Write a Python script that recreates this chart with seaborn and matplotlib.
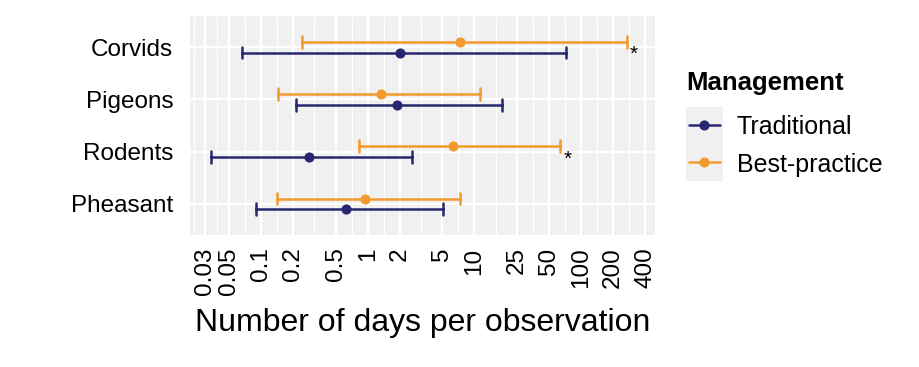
import numpy as np
import pandas as pd
import matplotlib
matplotlib.use("Agg")
import matplotlib.pyplot as plt
import seaborn as sns
from matplotlib.lines import Line2D
from matplotlib.patches import Rectangle
from matplotlib.ticker import NullFormatter

# data (days per observation)
species = ["Corvids", "Pigeons", "Rodents", "Pheasant"]
groups = ["Traditional", "Best-practice"]

trad_low = [0.066, 0.211, 0.034, 0.0905]
trad_mid = [2.02, 1.88, 0.282, 0.622]
trad_high = [72, 18.0, 2.58, 5.05]

best_low = [0.24, 0.143, 0.82, 0.142]
best_mid = [7.4, 1.32, 6.26, 0.945]
best_high = [270, 11.4, 64, 7.4]

signif = [True, False, True, False]

x_breaks = [0.03, 0.05, 0.1, 0.2, 0.5, 1, 2, 5, 10, 25, 50, 100, 200, 400]
x_labels = ["0.03", "0.05", "0.1", "0.2", "0.5", "1", "2", "5", "10", "25",
            "50", "100", "200", "400"]

colors = {"Traditional": "#27286F", "Best-practice": "#F39A2E"}

# long table: low / mid / high rows, the median gives the point
rows = []
for g, lo, mid, hi in [("Traditional", trad_low, trad_mid, trad_high),
                       ("Best-practice", best_low, best_mid, best_high)]:
    for i, sp in enumerate(species):
        for v in (lo[i], mid[i], hi[i]):
            rows.append({"species": sp, "Management": g, "days": v})
df = pd.DataFrame(rows)

sns.set_theme(style="white")
plt.rcParams["font.family"] = ["Liberation Sans", "DejaVu Sans"]
plt.rcParams["text.color"] = "black"

fig = plt.figure(figsize=(9.2, 3.67), dpi=100)
ax = fig.add_axes([190 / 920, 1 - 235 / 367, 465 / 920, 219 / 367])
ax.set_facecolor("#F0F0F0")

sns.pointplot(data=df, x="days", y="species", hue="Management",
              order=species, hue_order=["Best-practice", "Traditional"],
              palette=colors, estimator="median",
              errorbar=lambda v: (v.min(), v.max()),
              dodge=0.2, capsize=0.23, log_scale=True,
              linestyle="none", markers="o", markersize=7.3,
              markeredgewidth=0, linewidth=1.8, legend=False, ax=ax)

# asterisks next to the upper interval of the best-practice bars
star_x = []
for i, sp in enumerate(species):
    if signif[i]:
        sx = best_high[i] * 1.16
        star_x.append(sx)
        ax.text(sx, i + 0.14, "*", ha="center", va="center", fontsize=15,
                color="black")

# ggplot-like limits: 5% expansion in log space
lo = np.log10(min(trad_low + best_low))
hi = np.log10(max(star_x))
pad = (hi - lo) * 0.05
ax.set_xlim(10 ** (lo - pad), 10 ** (hi + pad))
ax.set_ylim(len(species) - 0.4, -0.6)

lb = np.log10(x_breaks)
ext = np.concatenate([[lb[0] - (lb[1] - lb[0])], lb])
minor = 10 ** ((ext[:-1] + ext[1:]) / 2)
ax.set_xticks(x_breaks)
ax.set_xticklabels(x_labels, rotation=90)
ax.set_xticks(minor, minor=True)
ax.xaxis.set_minor_formatter(NullFormatter())
ax.tick_params(axis="x", which="minor", length=0)
ax.tick_params(axis="both", which="major", length=6, width=1.4,
               color="#333333", labelsize=17.5, labelcolor="black")
ax.tick_params(axis="x", which="major", pad=3)
ax.tick_params(axis="y", which="major", pad=6)
ax.grid(which="major", color="white", linewidth=1.7)
ax.grid(which="minor", axis="x", color="white", linewidth=0.8)
ax.set_axisbelow(True)
for s in ax.spines.values():
    s.set_visible(False)

ax.set_ylabel("")
ax.set_xlabel("Number of days per observation", fontsize=23, labelpad=9,
              color="black")

# legend drawn by hand, ggplot style
W, H = 920, 367
def fx(px):
    return px / W
def fy(py):
    return 1 - py / H

fig.text(fx(686), fy(90), "Management", fontsize=18.5, fontweight="bold",
         ha="left", va="baseline")
fig.patches.append(Rectangle((fx(686), fy(181)), fx(723) - fx(686),
                             fy(107) - fy(181), transform=fig.transFigure,
                             facecolor="#F0F0F0", edgecolor="none"))
for k, g in enumerate(groups):
    yk = 125 + k * 37.5
    fig.lines.append(Line2D([fx(689), fx(720)], [fy(yk), fy(yk)],
                            transform=fig.transFigure, color=colors[g],
                            linewidth=1.8))
    fig.lines.append(Line2D([fx(704.5)], [fy(yk)], transform=fig.transFigure,
                            color=colors[g], marker="o", markersize=7.3,
                            markeredgewidth=0))
    fig.text(fx(737), fy(yk), g, fontsize=18, ha="left", va="center_baseline")

fig.savefig("out.png", dpi=100)
